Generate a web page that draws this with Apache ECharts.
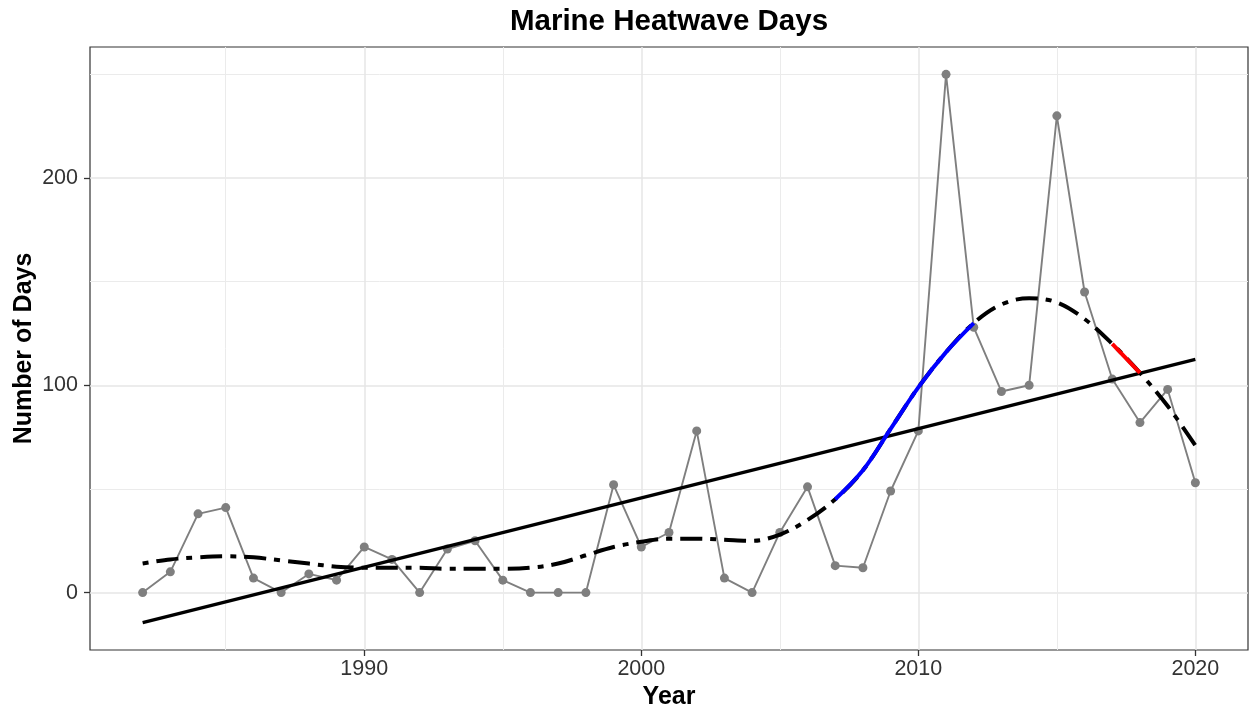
<!DOCTYPE html>
<html>
<head>
<meta charset="utf-8">
<script src="https://cdn.jsdelivr.net/npm/echarts@6/dist/echarts.min.js"></script>
<style>
  html, body { margin: 0; padding: 0; background: #ffffff; }
  #chart { width: 1249px; height: 708px; }
</style>
</head>
<body>
<div id="chart"></div>
<script>
// ---- data ----
const years = [1982,1983,1984,1985,1986,1987,1988,1989,1990,1991,1992,1993,1994,1995,1996,1997,1998,1999,2000,2001,2002,2003,2004,2005,2006,2007,2008,2009,2010,2011,2012,2013,2014,2015,2016,2017,2018,2019,2020];
const heatwaveDays = [0,10,38,41,7,0,9,6,22,16,0,21,25,6,0,0,0,52,22,29,78,7,0,29,51,13,12,49,78,250,128,97,100,230,145,103,82,98,53];
const smoothDays = [14,16,17,17.5,17,15.5,14,12.5,12,12,12,11.5,11.5,11.5,12,14,18,22,24.5,26,26,25.5,25,28,35,45,59,79,99,116,130,139,142,140,132,120,106,90,71];
const trendYears = [1982, 2020];
const trendDays = [-14.5, 112.5];
const blueRange = [2007, 2012];
const redRange = [2017, 2018];
const xMajorTicks = [1990, 2000, 2010, 2020];
const xMinorTicks = [1985, 1995, 2005, 2015];
const yMajorTicks = [0, 100, 200];
const yMinorTicks = [50, 150, 250];

const pairs = (xs, ys) => xs.map((x, i) => [x, ys[i]]);
const inRange = (r) => pairs(years, smoothDays).filter(p => p[0] >= r[0] && p[0] <= r[1]);

const FONT = "'Liberation Sans', Arial, Helvetica, sans-serif";
const X_MIN = 1980.1, X_MAX = 2021.9, Y_MIN = -27.7, Y_MAX = 263.2;

const chart = echarts.init(document.getElementById('chart'), null, { renderer: 'canvas' });
chart.setOption({
  animation: false,
  backgroundColor: '#ffffff',
  title: {
    text: 'Marine Heatwave Days',
    left: 669,
    top: 7,
    padding: 0,
    textAlign: 'center',
    textStyle: { fontFamily: FONT, fontWeight: 'bold', fontSize: 29.5, color: '#000000' }
  },
  grid: {
    left: 90, right: 1, top: 47, bottom: 58,
    outerBoundsMode: 'none', containLabel: false,
    show: true, borderColor: '#333333', borderWidth: 1.2, backgroundColor: '#ffffff'
  },
  xAxis: [
    {
      type: 'value', min: X_MIN, max: X_MAX, position: 'bottom',
      name: 'Year', nameLocation: 'middle', nameGap: 35, nameMoveOverlap: false,
      nameTextStyle: { fontFamily: FONT, fontWeight: 'bold', fontSize: 25, color: '#000000' },
      axisLine: { show: false, onZero: false },
      axisTick: { show: true, customValues: xMajorTicks, length: 6, inside: false, lineStyle: { color: '#333333', width: 1.3 } },
      axisLabel: { show: true, customValues: xMajorTicks, margin: 8, fontFamily: FONT, fontSize: 21.5, color: '#333333', formatter: v => String(v) },
      splitLine: { show: true, lineStyle: { color: '#E6E6E6', width: 1.5 } }
    },
    {
      type: 'value', min: X_MIN, max: X_MAX, position: 'top',
      axisLine: { show: false, onZero: false },
      axisTick: { show: false, customValues: xMinorTicks },
      axisLabel: { show: false },
      splitLine: { show: true, lineStyle: { color: '#EBEBEB', width: 1 } }
    }
  ],
  yAxis: [
    {
      type: 'value', min: Y_MIN, max: Y_MAX, position: 'left',
      name: 'Number of Days', nameLocation: 'middle', nameGap: 53, nameRotate: 90, nameMoveOverlap: false,
      nameTextStyle: { fontFamily: FONT, fontWeight: 'bold', fontSize: 25, color: '#000000' },
      axisLine: { show: false, onZero: false },
      axisTick: { show: true, customValues: yMajorTicks, length: 6, inside: false, lineStyle: { color: '#333333', width: 1.3 } },
      axisLabel: { show: true, customValues: yMajorTicks, margin: 12, fontFamily: FONT, fontSize: 21.5, color: '#333333' },
      splitLine: { show: true, lineStyle: { color: '#E6E6E6', width: 1.5 } }
    },
    {
      type: 'value', min: Y_MIN, max: Y_MAX, position: 'right',
      axisLine: { show: false, onZero: false },
      axisTick: { show: false, customValues: yMinorTicks },
      axisLabel: { show: false },
      splitLine: { show: true, lineStyle: { color: '#EBEBEB', width: 1 } }
    }
  ],
  series: [
    {
      name: 'Heatwave days', type: 'line', xAxisIndex: 0, yAxisIndex: 0,
      data: pairs(years, heatwaveDays),
      symbol: 'circle', symbolSize: 9, showSymbol: true,
      lineStyle: { color: '#7F7F7F', width: 1.9 },
      itemStyle: { color: '#7F7F7F' },
      z: 2, silent: true
    },
    {
      name: 'Linear trend', type: 'line', xAxisIndex: 0, yAxisIndex: 0,
      data: pairs(trendYears, trendDays),
      symbol: 'none',
      lineStyle: { color: '#000000', width: 3.4 },
      z: 3, silent: true
    },
    {
      name: 'Smoothed', type: 'line', xAxisIndex: 0, yAxisIndex: 0,
      data: pairs(years, smoothDays),
      symbol: 'none', smooth: 0.35,
      lineStyle: { color: '#000000', width: 4, type: [6, 8, 22, 8], cap: 'butt' },
      z: 4, silent: true
    },
    {
      name: 'Increasing', type: 'line', xAxisIndex: 0, yAxisIndex: 0,
      data: inRange(blueRange),
      symbol: 'none', smooth: 0.35,
      lineStyle: { color: '#0000FF', width: 4 },
      z: 5, silent: true
    },
    {
      name: 'Decreasing', type: 'line', xAxisIndex: 0, yAxisIndex: 0,
      data: inRange(redRange),
      symbol: 'none',
      lineStyle: { color: '#FF0000', width: 4 },
      z: 5, silent: true
    }
  ]
});
</script>
</body>
</html>
